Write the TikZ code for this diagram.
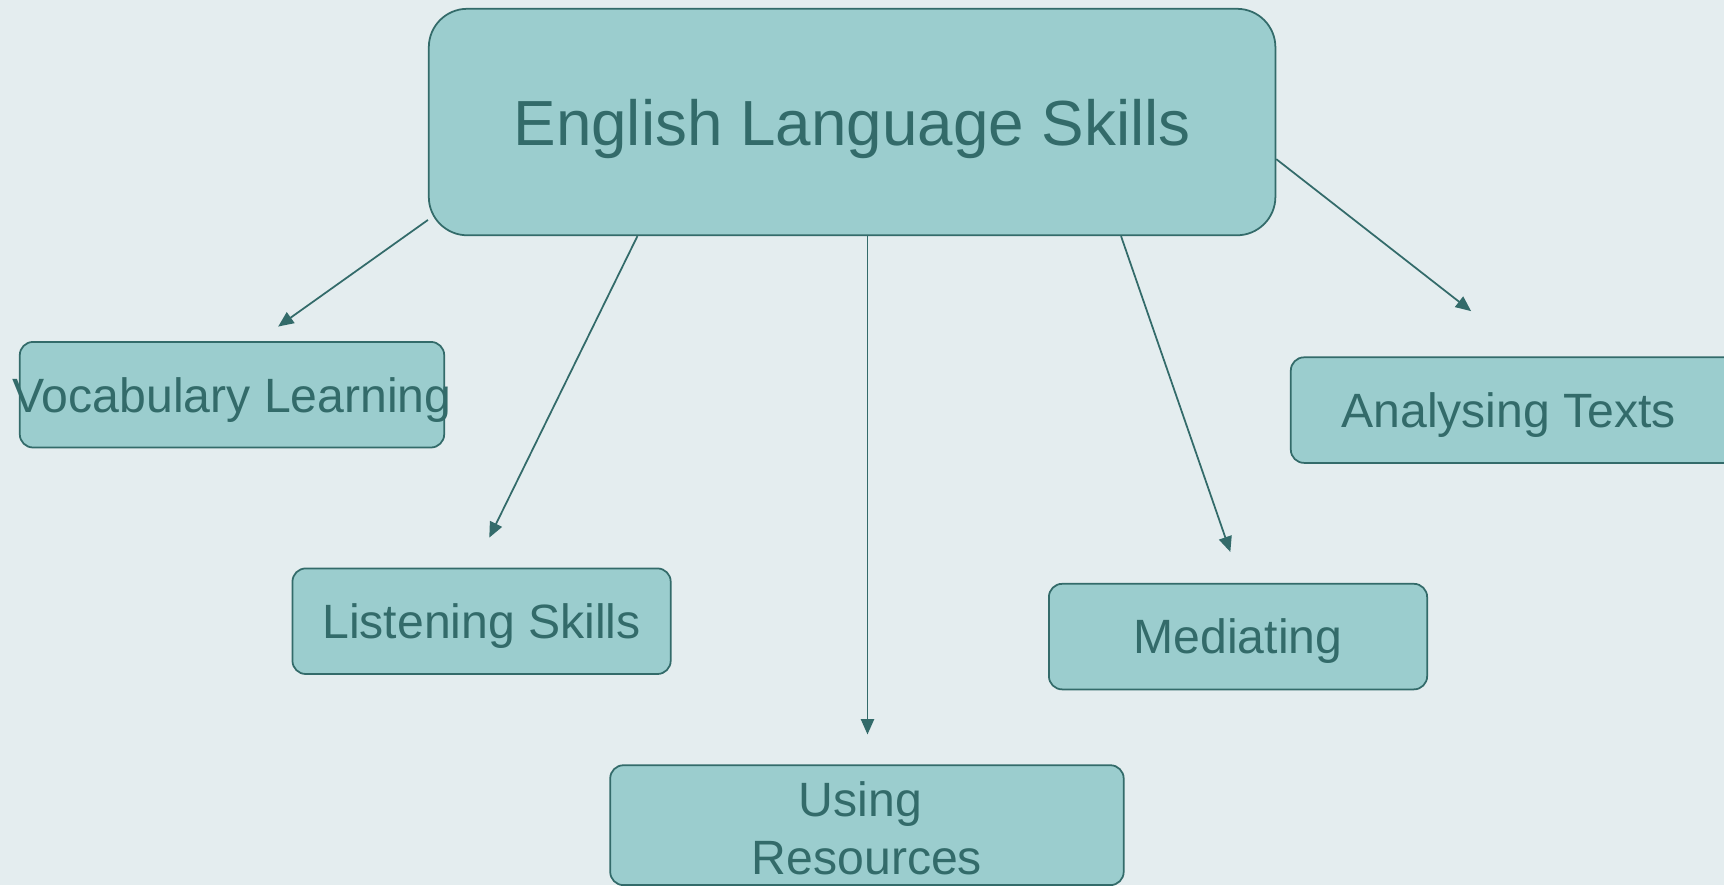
\documentclass[tikz,border=0pt]{standalone}
\usepackage{fontspec}
\setmainfont{Liberation Sans}
\usetikzlibrary{arrows.meta,positioning}
\definecolor{pagebg}{HTML}{E4EDEF}
\definecolor{boxfill}{HTML}{9BCDCE}
\definecolor{boxline}{HTML}{336B6A}
\tikzset{x=1pt, y=-1pt,
  skill/.style={draw=boxline, fill=boxfill, text=boxline, line width=1.6pt,
    rounded corners=12pt, inner sep=0pt, minimum height=96pt,
    font=\fontsize{43.8}{52.5}\selectfont, text height=31.5pt, text depth=0pt},
  topic/.style={skill, rounded corners=35pt, minimum width=770pt, minimum height=206pt,
    font=\fontsize{58}{70}\selectfont, text height=42pt},
  link/.style={boxline, line width=1.6pt, -{Triangle[length=14pt,width=12pt]}}}
\begin{document}
\begin{tikzpicture}
  \fill[pagebg] (0,0) rectangle (1568,805);
  \useasboundingbox (0,0) rectangle (1568,805);
  \node (title) [topic] at (775,111) {English Language Skills};
  \node (vocab) [skill, minimum width=386pt] at (211,359) {\makebox[386pt]{Vocabulary Learning}};
  \node (listen) [skill, minimum width=344pt] at (438,565) {Listening Skills};
  \node (res) [skill, minimum width=467pt, minimum height=109pt, align=center,
    text height=89pt] at (788.5,750.5) {Using\hspace*{12pt}\\Resources};
  \node (med) [skill, minimum width=344pt] at (1126,579) {Mediating};
  \node (ana) [skill] at (1450,373) {\makebox[552pt][l]{\hspace{46pt}Analysing Texts}};
  % free ends of the arrows
  \coordinate (vtip) at (253,297);
  \coordinate (ltip) at (445,489);
  \coordinate (rtip) at (789,668);
  \coordinate (mtip) at (1119,502);
  \coordinate (atip) at (1338,283);
  \path[link] (title.193) edge (vtip)
    (title.208) edge (ltip)
    (title.south -| rtip) edge (rtip)
    (title.337) edge (mtip)
    (title.355) edge (atip);
\end{tikzpicture}
\end{document}
